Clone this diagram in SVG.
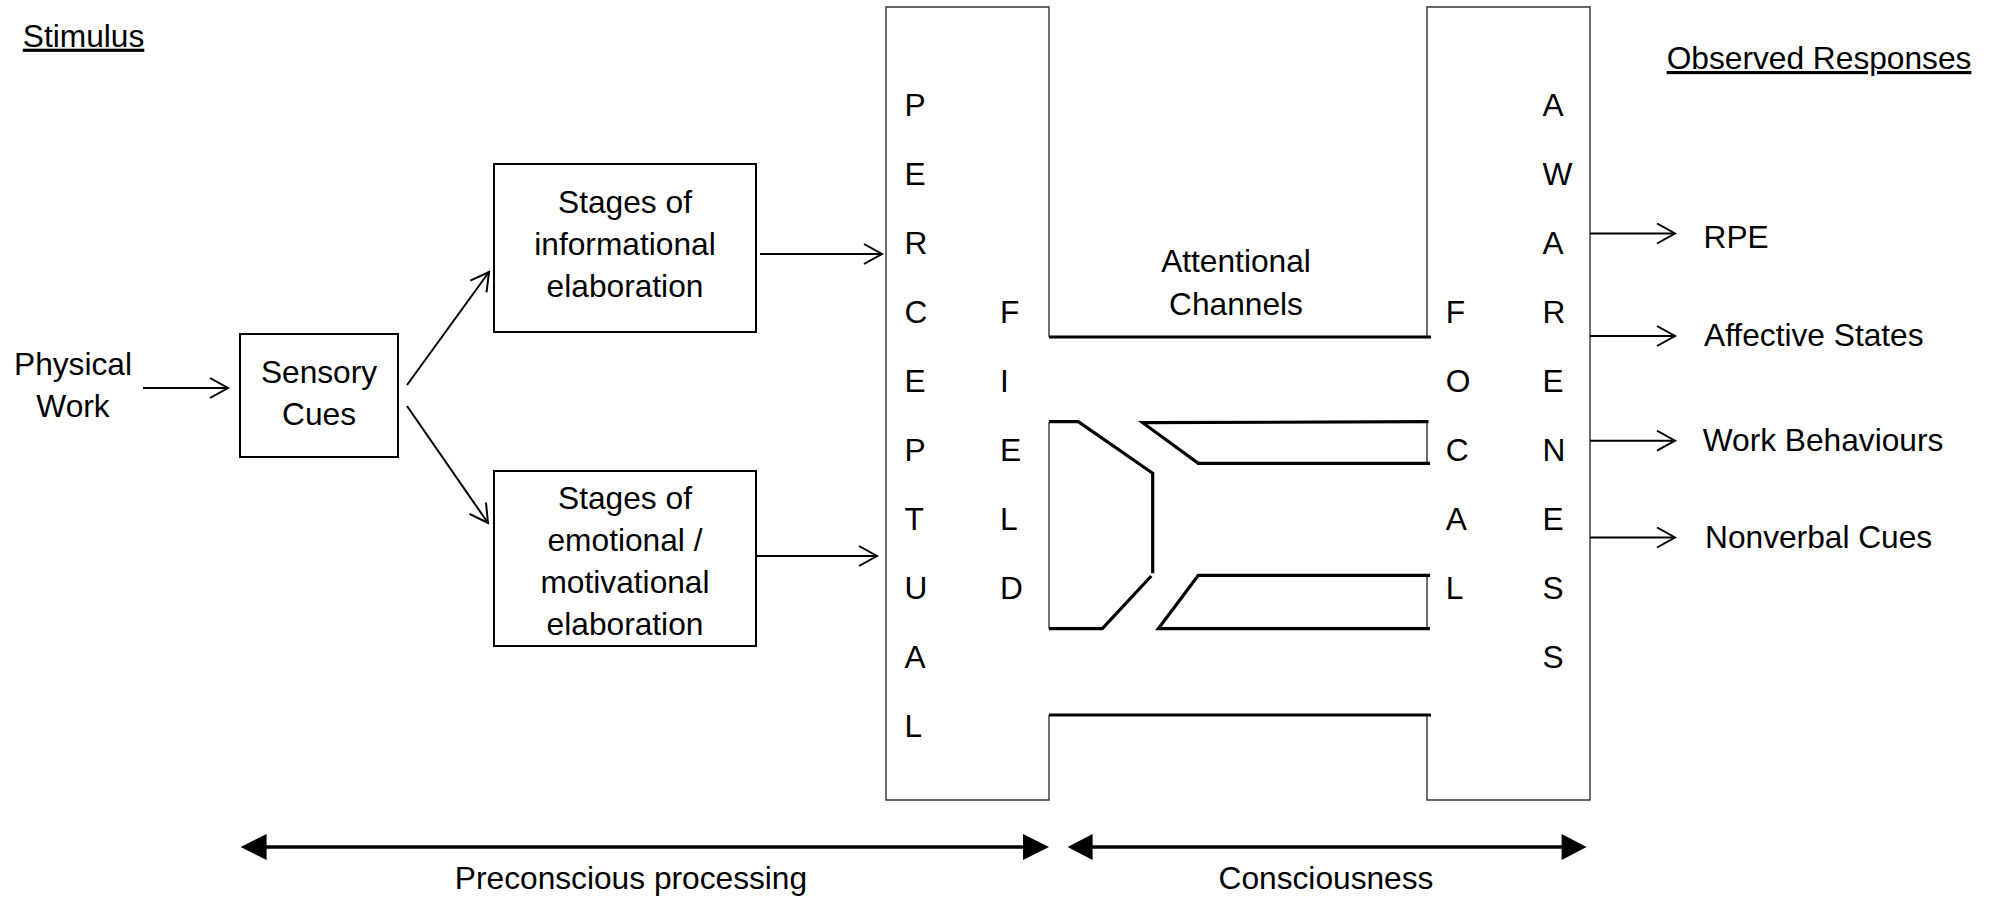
<svg xmlns="http://www.w3.org/2000/svg" width="2000" height="899" viewBox="0 0 2000 899">
<defs>
<style>
text{font-family:"Liberation Sans",Arial,sans-serif;font-size:31.7px;fill:#000}
.m{text-anchor:middle}
.u{text-decoration:underline}
.box{fill:none;stroke:#000;stroke-width:2}
.thin{fill:none;stroke:#333;stroke-width:1.4}
.thick{fill:none;stroke:#000;stroke-width:3.2}
.ln{fill:none;stroke:#000;stroke-width:2}
.head{fill:none;stroke:#000;stroke-width:2}
.bar{stroke:#000;stroke-width:3.4}
</style>
<marker id="open" markerUnits="userSpaceOnUse" markerWidth="22" markerHeight="24" refX="19" refY="11" orient="auto" viewBox="0 0 22 24">
<path d="M1,1 L19,11 L1,21" class="head"/>
</marker>
</defs>
<rect width="2000" height="899" fill="#fff"/>

<g id="stimulus-label"><text x="22.8" y="46.7" class="u">Stimulus</text></g>
<g id="observed-label"><text x="1666.7" y="69" class="u">Observed Responses</text></g>

<g id="physical-work">
<text x="73" y="375" class="m">Physical</text>
<text x="73" y="417" class="m">Work</text>
</g>

<g id="sensory-cues">
<rect x="240" y="334" width="158" height="123" class="box"/>
<text x="319" y="383" class="m">Sensory</text>
<text x="319" y="425" class="m">Cues</text>
</g>

<g id="informational">
<rect x="494" y="164" width="262" height="168" class="box"/>
<text x="625" y="213" class="m">Stages of</text>
<text x="625" y="255" class="m">informational</text>
<text x="625" y="297" class="m">elaboration</text>
</g>

<g id="emotional">
<rect x="494" y="471" width="262" height="175" class="box"/>
<text x="625" y="509" class="m">Stages of</text>
<text x="625" y="551" class="m">emotional /</text>
<text x="625" y="593" class="m">motivational</text>
<text x="625" y="635" class="m">elaboration</text>
</g>

<g id="perceptual-field">
<path d="M1049,337 V7 H886 V800 H1049 V715" class="thin"/>
<path d="M1049,421.7 V628.7" class="thin"/>
<text x="904.5" y="116">P</text>
<text x="904.5" y="185">E</text>
<text x="904.5" y="254">R</text>
<text x="904.5" y="323">C</text>
<text x="904.5" y="392">E</text>
<text x="904.5" y="461">P</text>
<text x="904.5" y="530">T</text>
<text x="904.5" y="599">U</text>
<text x="904.5" y="668">A</text>
<text x="904.5" y="737">L</text>
<text x="1000" y="322.7">F</text>
<text x="1000" y="391.7">I</text>
<text x="1000" y="460.7">E</text>
<text x="1000" y="529.7">L</text>
<text x="1000" y="598.7">D</text>
</g>

<g id="focal-awareness">
<path d="M1427,337 V7 H1590 V800 H1427 V715" class="thin"/>
<path d="M1427,421.7 V463.3 M1427,575.3 V628.7" class="thin"/>
<text x="1445.7" y="322.7">F</text>
<text x="1445.7" y="391.7">O</text>
<text x="1445.7" y="460.7">C</text>
<text x="1445.7" y="529.7">A</text>
<text x="1445.7" y="598.7">L</text>
<text x="1542.5" y="116">A</text>
<text x="1542.5" y="185">W</text>
<text x="1542.5" y="254">A</text>
<text x="1542.5" y="323">R</text>
<text x="1542.5" y="392">E</text>
<text x="1542.5" y="461">N</text>
<text x="1542.5" y="530">E</text>
<text x="1542.5" y="599">S</text>
<text x="1542.5" y="668">S</text>
</g>

<g id="attentional-channels">
<path d="M1049,337 H1431 M1049,715 H1431" class="thick"/>
<path d="M1049,421.7 H1078.3 L1152.7,473.3 V573.3 M1151.3,576 L1102.3,628.7 H1049" class="thick"/>
<path d="M1428.5,421.7 L1142.7,422.7 L1198.3,463.3 H1430" class="thick"/>
<path d="M1430,575.3 H1198.3 L1158.3,628.7 H1430" class="thick"/>
<text x="1236" y="271.7" class="m">Attentional</text>
<text x="1236" y="315" class="m">Channels</text>
</g>

<g id="rpe"><text x="1703.5" y="248">RPE</text></g>
<g id="affective"><text x="1704" y="346">Affective States</text></g>
<g id="work-behaviours"><text x="1702.7" y="450.6">Work Behaviours</text></g>
<g id="nonverbal"><text x="1705" y="547.8">Nonverbal Cues</text></g>

<g id="preconscious-label"><text x="631" y="889" class="m">Preconscious processing</text></g>
<g id="consciousness-label"><text x="1326" y="889" class="m">Consciousness</text></g>

<g id="connectors">
<line x1="143" y1="388" x2="228" y2="388" class="ln" marker-end="url(#open)"/>
<line x1="407" y1="385" x2="489" y2="272" class="ln" marker-end="url(#open)"/>
<line x1="407" y1="406" x2="488" y2="523" class="ln" marker-end="url(#open)"/>
<line x1="760" y1="254" x2="882" y2="254" class="ln" marker-end="url(#open)"/>
<line x1="757" y1="556" x2="877" y2="556" class="ln" marker-end="url(#open)"/>
<line x1="1590" y1="233.5" x2="1675" y2="233.5" class="ln" marker-end="url(#open)"/>
<line x1="1590" y1="336" x2="1675" y2="336" class="ln" marker-end="url(#open)"/>
<line x1="1590" y1="440.7" x2="1675" y2="440.7" class="ln" marker-end="url(#open)"/>
<line x1="1590" y1="537.5" x2="1675" y2="537.5" class="ln" marker-end="url(#open)"/>
<line x1="262" y1="847" x2="1028" y2="847" class="bar"/>
<polygon points="240.6,847 266.6,834 266.6,860"/>
<polygon points="1049,847 1023,834 1023,860"/>
<line x1="1088" y1="847" x2="1566" y2="847" class="bar"/>
<polygon points="1067.6,847 1092.6,834 1092.6,860"/>
<polygon points="1586.6,847 1561.6,834 1561.6,860"/>
</g>
</svg>
